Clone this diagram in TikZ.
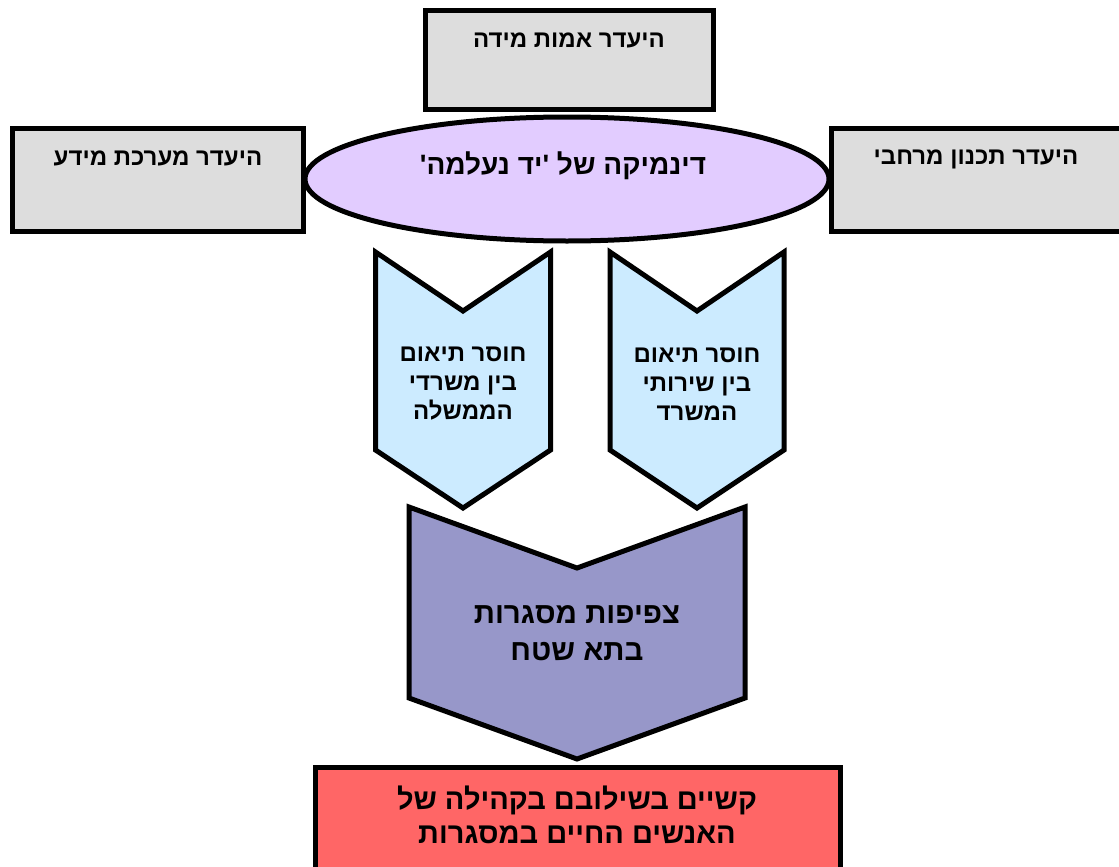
\documentclass[tikz,border=0pt]{standalone}
\usepackage{fontspec}
\newfontfamily\heb[Script=Hebrew]{Liberation Sans}
\TeXXeTstate=1
\definecolor{boxgray}{HTML}{DDDDDD}
\definecolor{lav}{HTML}{E2CCFF}
\definecolor{lblue}{HTML}{CCEBFF}
\definecolor{purp}{HTML}{9797C9}
\definecolor{redbox}{HTML}{FF6666}
\newcommand{\RL}[1]{\beginR #1\endR}
\begin{document}
\begin{tikzpicture}[x=1pt,y=-1pt,
  shp/.style={draw=black,line width=5pt,line join=miter},
  lbl/.style={align=center,inner sep=0pt,font=\heb\bfseries}]
\useasboundingbox (0,0) rectangle (1119,867);
% top boxes
\draw[shp,fill=boxgray] (425.5,10.5) rectangle (713.5,109.5);
\draw[shp,fill=boxgray] (12.5,128.5) rectangle (303.5,231.5);
\draw[shp,fill=boxgray] (831.5,128.5) rectangle (1125,231.5);
\node[lbl,font=\heb\bfseries\fontsize{24}{28}\selectfont] (t1) at (569,40) {\RL{היעדר אמות מידה}};
\node[lbl,font=\heb\bfseries\fontsize{24}{28}\selectfont] (t2) at (158,158) {\RL{היעדר מערכת מידע}};
\node[lbl,font=\heb\bfseries\fontsize{24}{28}\selectfont] (t3) at (976,159) {\RL{היעדר תכנון מרחבי}};
% ellipse
\draw[shp,fill=lav] (567,179) ellipse [x radius=262, y radius=62];
\node[lbl,font=\heb\bfseries\fontsize{28}{32}\selectfont] (e) at (563,166) {\RL{דינמיקה של 'יד נעלמה'}};
% small chevrons
\draw[shp,fill=lblue] (375.5,252) -- (463,311) -- (550.5,252) -- (550.5,450) -- (463,508) -- (375.5,450) -- cycle;
\draw[shp,fill=lblue] (610,252) -- (697,311) -- (784,252) -- (784,450) -- (697,508) -- (610,450) -- cycle;
\node[lbl,font=\heb\bfseries\fontsize{24}{29}\selectfont] (c1) at (463,384) {\RL{חוסר תיאום}\\\RL{בין משרדי}\\\RL{הממשלה}};
\node[lbl,font=\heb\bfseries\fontsize{24}{29}\selectfont] (c2) at (697,384) {\RL{חוסר תיאום}\\\RL{בין שירותי}\\\RL{המשרד}};
% big chevron
\draw[shp,fill=purp] (409,507) -- (577,568) -- (745,507) -- (745,698) -- (577,759) -- (409,698) -- cycle;
\node[lbl,font=\heb\bfseries\fontsize{29.5}{37}\selectfont] (b) at (577,633) {\RL{צפיפות מסגרות}\\\RL{בתא שטח}};
% bottom box
\draw[shp,fill=redbox] (315.5,767.5) rectangle (840.5,880);
\node[lbl,font=\heb\bfseries\fontsize{29}{34}\selectfont] (f) at (577,815) {\RL{קשיים בשילובם בקהילה של}\\\RL{האנשים החיים במסגרות}};
\end{tikzpicture}
\end{document}
